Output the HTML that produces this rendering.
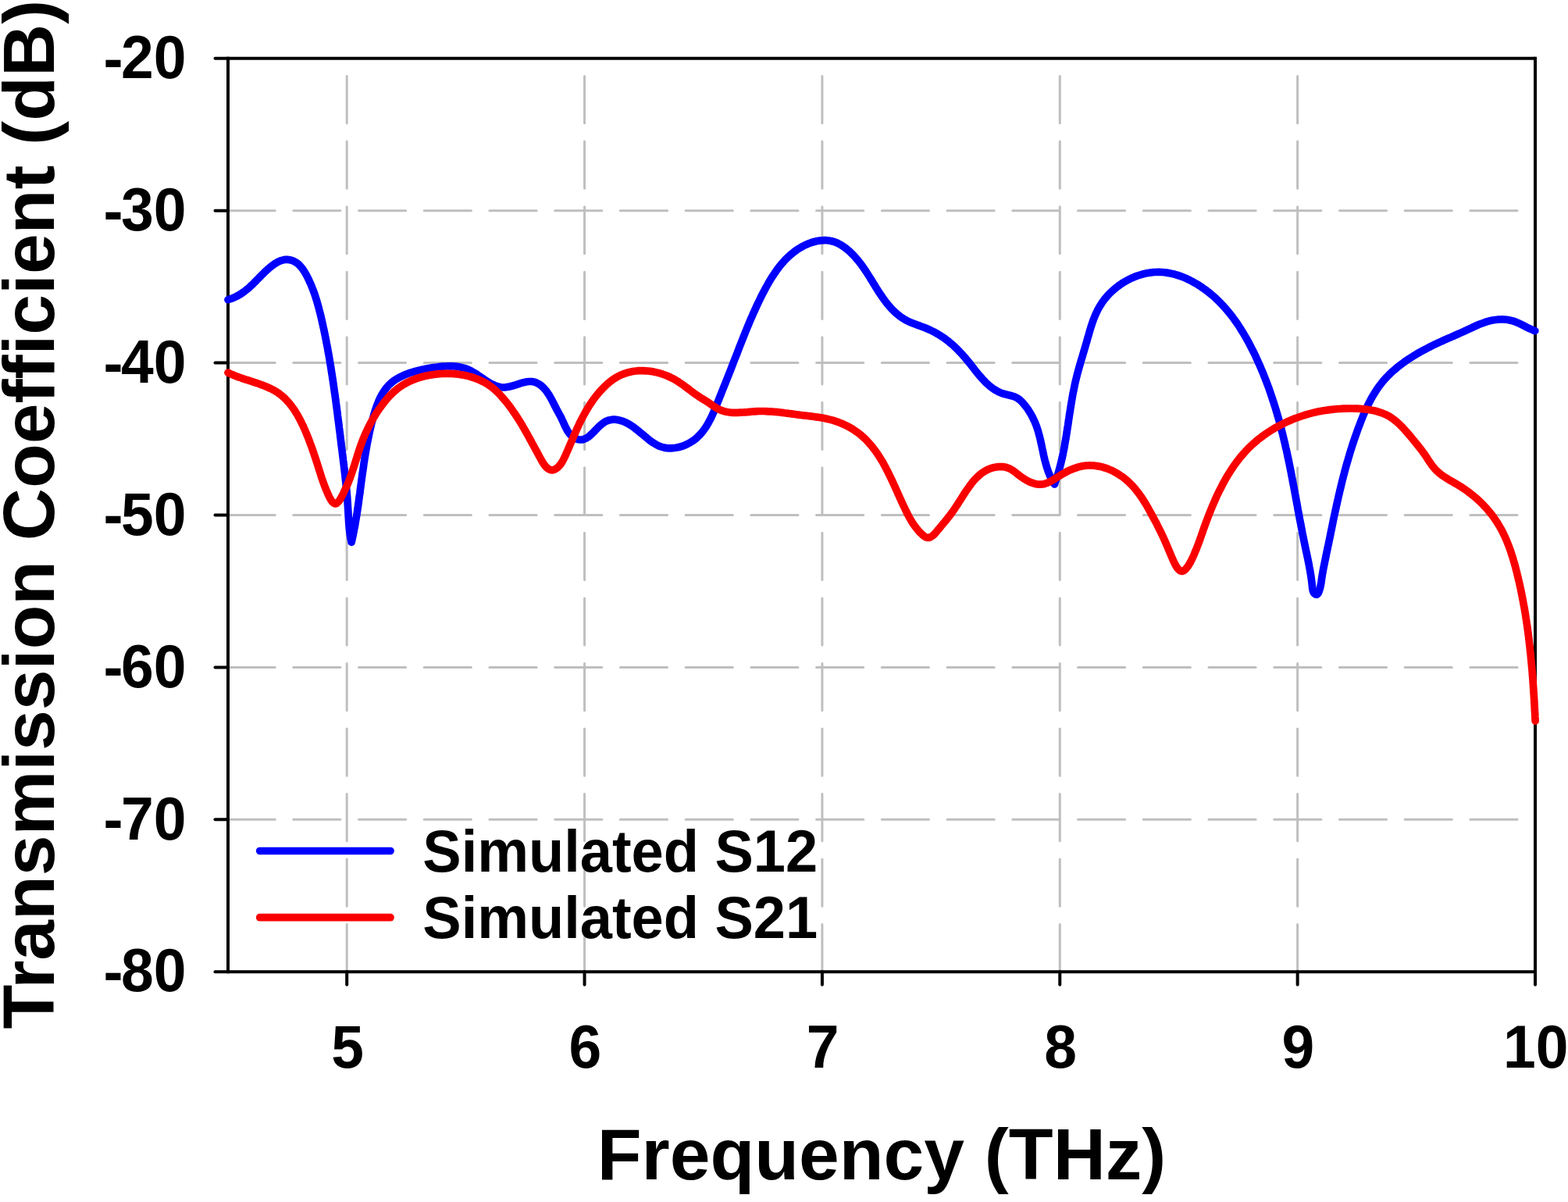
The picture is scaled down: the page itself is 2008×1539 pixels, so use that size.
<!DOCTYPE html>
<html lang="en"><head><meta charset="utf-8"><title>Transmission Coefficient vs Frequency</title>
<style>html,body{margin:0;padding:0;background:#fff}body{width:2008px;height:1539px;overflow:hidden}svg{display:block}text{font-family:"Liberation Sans",Arial,Helvetica,sans-serif;font-weight:bold;fill:#000}</style>
</head><body>
<svg xmlns="http://www.w3.org/2000/svg" width="2008" height="1539" viewBox="0 0 2008 1539">
<rect x="0" y="0" width="2008" height="1539" fill="#fff"/>
<g stroke="#bfbfbf" stroke-width="3" stroke-linecap="round" fill="none">
<line x1="292.00" y1="269.63" x2="1966.00" y2="269.63" stroke-dasharray="60.20 23.53"/>
<line x1="292.00" y1="464.57" x2="1966.00" y2="464.57" stroke-dasharray="60.20 23.53"/>
<line x1="292.00" y1="659.50" x2="1966.00" y2="659.50" stroke-dasharray="60.20 23.53"/>
<line x1="292.00" y1="854.43" x2="1966.00" y2="854.43" stroke-dasharray="60.20 23.53"/>
<line x1="292.00" y1="1049.37" x2="1966.00" y2="1049.37" stroke-dasharray="60.20 23.53"/>
<line x1="444.18" y1="1243.80" x2="444.18" y2="74.70" stroke-dasharray="60.20 23.34"/>
<line x1="748.55" y1="1243.80" x2="748.55" y2="74.70" stroke-dasharray="60.20 23.34"/>
<line x1="1052.91" y1="1243.80" x2="1052.91" y2="74.70" stroke-dasharray="60.20 23.34"/>
<line x1="1357.27" y1="1243.80" x2="1357.27" y2="74.70" stroke-dasharray="60.20 23.34"/>
<line x1="1661.64" y1="1243.80" x2="1661.64" y2="74.70" stroke-dasharray="60.20 23.34"/>
</g>
<g stroke="#000" stroke-width="4" stroke-linecap="butt" fill="none">
<line x1="292.00" y1="72.70" x2="292.00" y2="1246.30"/>
<line x1="1966.00" y1="72.70" x2="1966.00" y2="1246.30"/>
<line x1="292.00" y1="74.70" x2="1966.00" y2="74.70"/>
<line x1="292.00" y1="1244.30" x2="1966.00" y2="1244.30"/>
<line x1="275.50" y1="74.70" x2="292.00" y2="74.70" stroke-linecap="round"/>
<line x1="275.50" y1="269.63" x2="292.00" y2="269.63" stroke-linecap="round"/>
<line x1="275.50" y1="464.57" x2="292.00" y2="464.57" stroke-linecap="round"/>
<line x1="275.50" y1="659.50" x2="292.00" y2="659.50" stroke-linecap="round"/>
<line x1="275.50" y1="854.43" x2="292.00" y2="854.43" stroke-linecap="round"/>
<line x1="275.50" y1="1049.37" x2="292.00" y2="1049.37" stroke-linecap="round"/>
<line x1="275.50" y1="1244.30" x2="292.00" y2="1244.30" stroke-linecap="round"/>
<line x1="444.18" y1="1244.30" x2="444.18" y2="1260.80" stroke-linecap="round"/>
<line x1="748.55" y1="1244.30" x2="748.55" y2="1260.80" stroke-linecap="round"/>
<line x1="1052.91" y1="1244.30" x2="1052.91" y2="1260.80" stroke-linecap="round"/>
<line x1="1357.27" y1="1244.30" x2="1357.27" y2="1260.80" stroke-linecap="round"/>
<line x1="1661.64" y1="1244.30" x2="1661.64" y2="1260.80" stroke-linecap="round"/>
<line x1="1966.00" y1="1244.30" x2="1966.00" y2="1260.80" stroke-linecap="round"/>
</g>
<g fill="none" stroke-width="9.7" stroke-linecap="round" stroke-linejoin="round">
<path stroke="#0000ff" d="M292.0 383.7L295.2 382.7L298.2 381.6L301.0 380.3L303.8 379.0L306.4 377.5L308.9 376.0L311.3 374.3L313.7 372.6L315.9 370.8L318.2 368.9L320.3 366.9L322.5 364.9L324.6 362.9L326.7 360.8L328.8 358.7L330.9 356.5L333.1 354.3L335.2 352.1L337.5 349.9L339.7 347.7L342.1 345.5L344.5 343.4L347.0 341.3L349.5 339.4L352.1 337.6L354.7 336.0L357.3 334.7L360.0 333.6L362.8 332.8L365.5 332.4L368.3 332.4L371.0 332.7L373.8 333.4L376.4 334.5L379.0 335.9L381.4 337.7L383.6 339.7L385.6 341.9L387.5 344.3L389.3 346.9L390.9 349.6L392.5 352.4L393.9 355.2L395.3 358.0L396.6 360.9L397.9 363.7L399.1 366.6L400.2 369.4L401.3 372.3L402.4 375.2L403.4 378.1L404.3 380.9L405.2 383.8L406.1 386.7L406.9 389.6L407.7 392.5L408.5 395.4L409.2 398.3L410.0 401.2L410.7 404.1L411.4 407.1L412.1 410.0L412.7 412.9L413.4 415.8L414.0 418.8L414.7 421.7L415.3 424.7L415.9 427.6L416.5 430.5L417.1 433.5L417.7 436.5L418.2 439.4L418.8 442.4L419.4 445.3L419.9 448.3L420.4 451.3L421.0 454.2L421.5 457.2L422.0 460.2L422.5 463.2L423.0 466.2L423.5 469.1L424.0 472.1L424.4 475.1L424.9 478.1L425.4 481.1L425.8 484.1L426.3 487.1L426.7 490.1L427.2 493.1L427.6 496.1L428.0 499.1L428.4 502.1L428.9 505.1L429.3 508.1L429.7 511.1L430.1 514.1L430.5 517.1L430.9 520.1L431.3 523.1L431.7 526.1L432.1 529.1L432.4 532.1L432.8 535.1L433.2 538.1L433.6 541.1L434.0 544.1L434.3 547.1L434.7 550.1L435.1 553.1L435.5 556.2L435.8 559.2L436.2 562.2L436.6 565.2L436.9 568.2L437.3 571.2L437.7 574.2L438.1 577.2L438.4 580.1L438.8 583.1L439.2 586.1L439.5 589.1L439.9 592.1L440.3 595.1L440.6 598.1L441.0 601.1L441.3 604.1L441.7 607.1L442.0 610.1L442.3 613.1L442.7 616.1L443.0 619.1L443.3 622.1L443.6 625.1L443.9 628.1L444.1 631.1L444.4 634.1L444.7 637.1L444.9 640.1L445.1 643.1L445.3 646.2L445.5 649.2L445.7 652.2L445.9 655.2L446.0 658.3L446.2 661.3L446.4 664.3L446.6 667.4L446.8 670.4L447.0 673.4L447.3 676.4L447.6 679.4L448.0 682.4L448.4 685.4L448.9 688.4L449.5 691.3L450.1 694.3L450.8 691.3L451.4 688.4L452.1 685.4L452.7 682.4L453.2 679.5L453.8 676.5L454.4 673.6L454.9 670.6L455.4 667.6L455.9 664.7L456.4 661.7L456.9 658.7L457.4 655.7L457.8 652.8L458.3 649.8L458.7 646.8L459.1 643.9L459.5 640.9L459.9 637.9L460.3 634.9L460.8 632.0L461.2 629.0L461.5 626.0L461.9 623.1L462.3 620.1L462.7 617.1L463.1 614.1L463.5 611.2L463.9 608.2L464.3 605.2L464.8 602.3L465.2 599.3L465.6 596.3L466.0 593.3L466.5 590.4L466.9 587.4L467.4 584.4L467.9 581.5L468.4 578.5L468.9 575.5L469.4 572.6L469.9 569.6L470.5 566.6L471.1 563.7L471.7 560.7L472.3 557.7L472.9 554.8L473.5 551.8L474.2 548.9L474.9 545.9L475.6 542.9L476.4 540.0L477.2 537.0L478.0 534.1L478.8 531.1L479.7 528.2L480.6 525.2L481.6 522.3L482.6 519.5L483.7 516.6L484.8 513.8L486.0 511.1L487.3 508.4L488.7 505.8L490.2 503.3L491.8 500.8L493.5 498.4L495.3 496.1L497.2 493.9L499.3 491.8L501.4 489.9L503.8 488.0L506.2 486.3L508.8 484.7L511.5 483.2L514.3 481.8L517.1 480.5L520.0 479.3L522.9 478.2L525.8 477.2L528.8 476.3L531.7 475.5L534.6 474.7L537.5 473.9L540.4 473.3L543.3 472.7L546.2 472.1L549.2 471.6L552.1 471.1L555.1 470.6L558.1 470.2L561.1 469.8L564.1 469.4L567.1 469.2L570.1 469.0L573.1 468.8L576.1 468.8L579.1 468.9L582.1 469.0L585.0 469.3L588.0 469.8L590.9 470.4L593.7 471.1L596.6 472.0L599.4 473.1L602.1 474.4L604.8 475.8L607.5 477.4L610.1 479.0L612.7 480.8L615.3 482.5L617.9 484.3L620.5 486.1L623.1 487.8L625.7 489.4L628.3 490.9L630.9 492.3L633.6 493.5L636.3 494.5L639.0 495.2L641.8 495.7L644.6 496.0L647.5 495.8L650.5 495.4L653.5 494.8L656.5 494.0L659.5 493.1L662.6 492.1L665.6 491.1L668.7 490.2L671.7 489.4L674.7 488.8L677.6 488.5L680.5 488.5L683.3 488.8L686.0 489.6L688.6 490.8L691.2 492.4L693.6 494.2L695.8 496.3L697.9 498.6L699.9 500.9L701.6 503.4L703.3 506.0L704.8 508.6L706.3 511.3L707.7 514.0L709.1 516.7L710.4 519.4L711.8 522.0L713.1 524.6L714.5 527.1L715.9 529.7L717.3 532.3L718.7 534.9L720.0 537.7L721.3 540.5L722.6 543.4L724.0 546.3L725.4 549.1L726.9 551.8L728.6 554.4L730.5 556.7L732.7 558.7L735.1 560.5L737.7 561.8L740.5 562.7L743.4 563.0L746.1 562.8L748.7 562.0L751.2 560.8L753.6 559.2L756.0 557.2L758.3 555.1L760.6 552.8L762.9 550.4L765.2 548.0L767.5 545.7L769.9 543.6L772.3 541.7L774.8 540.0L777.4 538.8L780.0 537.9L782.8 537.4L785.6 537.2L788.4 537.2L791.2 537.6L794.1 538.3L796.9 539.1L799.7 540.2L802.5 541.5L805.2 543.0L807.8 544.6L810.4 546.3L812.9 548.1L815.4 550.1L817.8 552.1L820.3 554.1L822.7 556.1L825.1 558.1L827.5 560.1L829.9 562.1L832.3 564.0L834.8 565.8L837.3 567.4L839.8 568.9L842.4 570.3L845.0 571.5L847.8 572.4L850.5 573.1L853.4 573.6L856.3 573.9L859.3 573.9L862.3 573.7L865.3 573.3L868.3 572.8L871.3 572.0L874.2 571.1L877.1 570.0L879.9 568.7L882.6 567.3L885.3 565.7L887.8 564.1L890.2 562.3L892.5 560.4L894.6 558.3L896.7 556.2L898.6 554.0L900.4 551.7L902.2 549.3L903.9 546.9L905.5 544.3L907.0 541.8L908.4 539.1L909.8 536.4L911.2 533.7L912.5 530.9L913.7 528.1L914.9 525.3L916.1 522.4L917.3 519.6L918.4 516.7L919.6 513.9L920.7 511.0L921.8 508.2L923.0 505.4L924.1 502.6L925.2 499.8L926.3 497.0L927.4 494.2L928.6 491.4L929.7 488.6L930.8 485.8L931.9 483.0L933.0 480.2L934.1 477.5L935.2 474.7L936.3 471.9L937.4 469.1L938.4 466.4L939.5 463.6L940.6 460.8L941.7 458.0L942.8 455.2L943.9 452.4L944.9 449.7L946.0 446.9L947.1 444.1L948.2 441.3L949.3 438.5L950.4 435.7L951.5 432.9L952.6 430.2L953.7 427.4L954.8 424.6L956.0 421.8L957.1 419.0L958.3 416.3L959.4 413.5L960.6 410.7L961.8 407.9L963.0 405.2L964.2 402.4L965.4 399.7L966.7 396.9L967.9 394.2L969.2 391.4L970.5 388.7L971.8 386.0L973.1 383.2L974.4 380.5L975.8 377.8L977.2 375.1L978.6 372.4L980.0 369.7L981.5 367.0L983.0 364.4L984.5 361.7L986.0 359.1L987.6 356.5L989.2 353.9L990.9 351.4L992.6 348.9L994.3 346.4L996.1 344.0L997.9 341.6L999.8 339.2L1001.7 336.9L1003.7 334.7L1005.7 332.5L1007.8 330.4L1010.0 328.3L1012.2 326.3L1014.5 324.4L1016.9 322.5L1019.3 320.8L1021.8 319.1L1024.3 317.4L1027.0 315.9L1029.7 314.5L1032.4 313.2L1035.2 312.0L1038.0 310.9L1040.9 310.0L1043.8 309.2L1046.7 308.5L1049.6 308.1L1052.5 307.8L1055.5 307.6L1058.4 307.7L1061.3 308.0L1064.1 308.5L1067.0 309.2L1069.8 310.1L1072.5 311.3L1075.2 312.7L1077.9 314.2L1080.5 316.0L1083.0 317.8L1085.4 319.8L1087.8 321.8L1090.1 324.0L1092.3 326.2L1094.4 328.4L1096.4 330.7L1098.4 333.0L1100.3 335.3L1102.1 337.7L1103.9 340.1L1105.6 342.5L1107.3 345.0L1109.0 347.5L1110.6 350.0L1112.2 352.5L1113.8 355.0L1115.4 357.6L1116.9 360.1L1118.5 362.7L1120.1 365.2L1121.6 367.7L1123.2 370.3L1124.8 372.8L1126.4 375.3L1128.1 377.8L1129.8 380.3L1131.5 382.7L1133.3 385.1L1135.1 387.5L1137.0 389.9L1139.0 392.2L1141.0 394.4L1143.1 396.7L1145.3 398.8L1147.5 400.8L1149.8 402.8L1152.1 404.7L1154.6 406.4L1157.1 408.1L1159.6 409.6L1162.3 411.0L1165.0 412.3L1167.8 413.4L1170.6 414.5L1173.4 415.6L1176.3 416.6L1179.2 417.7L1182.0 418.7L1184.8 419.8L1187.6 421.0L1190.4 422.2L1193.1 423.5L1195.8 424.8L1198.4 426.2L1201.0 427.7L1203.6 429.3L1206.1 430.9L1208.6 432.6L1211.0 434.3L1213.4 436.1L1215.7 438.0L1218.0 439.9L1220.3 441.9L1222.5 443.9L1224.7 446.0L1226.8 448.1L1228.9 450.3L1231.0 452.5L1233.0 454.7L1235.0 457.0L1237.0 459.3L1238.9 461.6L1240.8 463.9L1242.7 466.3L1244.6 468.7L1246.5 471.1L1248.3 473.5L1250.2 475.8L1252.1 478.2L1254.0 480.5L1256.0 482.8L1258.0 485.0L1260.0 487.2L1262.1 489.4L1264.2 491.4L1266.5 493.4L1268.8 495.3L1271.2 497.1L1273.6 498.8L1276.2 500.3L1278.8 501.7L1281.6 502.9L1284.4 504.0L1287.3 504.8L1290.3 505.5L1293.3 506.2L1296.2 507.0L1299.0 507.9L1301.7 509.1L1304.2 510.6L1306.6 512.5L1308.7 514.7L1310.8 516.9L1312.7 519.3L1314.6 521.7L1316.4 524.1L1318.0 526.7L1319.6 529.3L1321.1 531.9L1322.5 534.6L1323.8 537.3L1325.1 540.0L1326.2 542.8L1327.3 545.6L1328.3 548.5L1329.2 551.3L1330.0 554.2L1330.8 557.1L1331.6 560.0L1332.3 563.0L1332.9 565.9L1333.6 568.9L1334.2 571.8L1334.8 574.8L1335.5 577.7L1336.1 580.7L1336.7 583.6L1337.4 586.6L1338.1 589.5L1338.9 592.4L1339.7 595.3L1340.5 598.1L1341.5 601.0L1342.4 603.8L1343.5 606.6L1344.7 609.4L1346.0 612.1L1347.3 614.8L1348.8 617.4L1350.4 620.0L1351.4 617.2L1352.4 614.3L1353.4 611.5L1354.3 608.6L1355.2 605.8L1356.0 602.9L1356.8 600.0L1357.6 597.1L1358.3 594.2L1359.0 591.3L1359.7 588.4L1360.4 585.4L1361.0 582.5L1361.6 579.6L1362.2 576.6L1362.8 573.7L1363.3 570.7L1363.8 567.8L1364.3 564.8L1364.9 561.8L1365.3 558.9L1365.8 555.9L1366.3 552.9L1366.7 549.9L1367.2 546.9L1367.7 544.0L1368.1 541.0L1368.5 538.0L1369.0 535.0L1369.4 532.0L1369.9 529.0L1370.4 526.1L1370.8 523.1L1371.3 520.1L1371.8 517.1L1372.3 514.2L1372.8 511.2L1373.3 508.2L1373.8 505.3L1374.4 502.3L1375.0 499.4L1375.6 496.4L1376.2 493.5L1376.8 490.5L1377.5 487.6L1378.2 484.7L1378.9 481.8L1379.6 478.9L1380.4 476.0L1381.2 473.1L1382.0 470.2L1382.9 467.3L1383.7 464.4L1384.5 461.5L1385.4 458.6L1386.3 455.8L1387.1 452.9L1388.0 450.0L1388.8 447.1L1389.7 444.2L1390.5 441.3L1391.4 438.4L1392.2 435.5L1393.0 432.5L1393.9 429.6L1394.7 426.7L1395.5 423.8L1396.4 420.9L1397.3 418.0L1398.2 415.2L1399.2 412.3L1400.2 409.5L1401.3 406.7L1402.4 404.0L1403.6 401.3L1404.9 398.6L1406.2 395.9L1407.7 393.3L1409.2 390.8L1410.8 388.3L1412.5 385.8L1414.3 383.4L1416.2 381.1L1418.2 378.8L1420.2 376.6L1422.4 374.4L1424.6 372.3L1426.9 370.3L1429.2 368.4L1431.6 366.5L1434.1 364.7L1436.6 363.0L1439.2 361.4L1441.9 359.8L1444.5 358.4L1447.3 357.0L1450.0 355.7L1452.8 354.5L1455.7 353.4L1458.5 352.5L1461.4 351.6L1464.3 350.8L1467.2 350.1L1470.2 349.5L1473.1 349.1L1476.1 348.7L1479.1 348.5L1482.0 348.4L1485.0 348.4L1488.0 348.5L1490.9 348.8L1493.9 349.1L1496.8 349.6L1499.7 350.2L1502.6 350.8L1505.5 351.6L1508.4 352.5L1511.2 353.4L1514.1 354.5L1516.9 355.6L1519.7 356.8L1522.4 358.1L1525.1 359.5L1527.8 360.9L1530.5 362.4L1533.1 363.9L1535.7 365.6L1538.2 367.2L1540.7 369.0L1543.2 370.7L1545.6 372.5L1548.0 374.4L1550.3 376.3L1552.6 378.2L1554.9 380.2L1557.1 382.2L1559.3 384.3L1561.4 386.4L1563.5 388.5L1565.5 390.7L1567.6 392.9L1569.6 395.1L1571.5 397.4L1573.4 399.7L1575.3 402.0L1577.1 404.3L1578.9 406.7L1580.7 409.1L1582.5 411.6L1584.2 414.0L1585.9 416.5L1587.5 419.0L1589.1 421.6L1590.7 424.1L1592.3 426.7L1593.8 429.3L1595.3 431.9L1596.8 434.5L1598.3 437.2L1599.7 439.8L1601.1 442.5L1602.5 445.2L1603.9 447.9L1605.2 450.6L1606.6 453.3L1607.9 456.0L1609.1 458.8L1610.4 461.5L1611.6 464.3L1612.9 467.0L1614.1 469.8L1615.2 472.6L1616.4 475.3L1617.6 478.1L1618.7 480.9L1619.8 483.7L1620.9 486.5L1622.0 489.3L1623.0 492.1L1624.1 494.9L1625.1 497.7L1626.1 500.6L1627.1 503.4L1628.0 506.2L1629.0 509.1L1629.9 511.9L1630.9 514.8L1631.8 517.7L1632.7 520.5L1633.6 523.4L1634.4 526.3L1635.3 529.1L1636.1 532.0L1637.0 534.9L1637.8 537.8L1638.6 540.7L1639.4 543.6L1640.1 546.5L1640.9 549.4L1641.6 552.3L1642.4 555.2L1643.1 558.1L1643.8 561.1L1644.5 564.0L1645.2 566.9L1645.9 569.9L1646.5 572.8L1647.2 575.7L1647.9 578.7L1648.5 581.6L1649.1 584.6L1649.8 587.5L1650.4 590.4L1651.0 593.4L1651.6 596.3L1652.2 599.3L1652.8 602.3L1653.4 605.2L1653.9 608.2L1654.5 611.1L1655.1 614.1L1655.6 617.1L1656.2 620.0L1656.8 623.0L1657.3 625.9L1657.9 628.9L1658.4 631.9L1659.0 634.8L1659.5 637.8L1660.1 640.8L1660.6 643.7L1661.2 646.7L1661.7 649.6L1662.2 652.6L1662.8 655.6L1663.3 658.5L1663.9 661.5L1664.4 664.4L1665.0 667.4L1665.6 670.3L1666.1 673.3L1666.7 676.2L1667.3 679.2L1667.8 682.1L1668.4 685.1L1669.0 688.0L1669.6 690.9L1670.2 693.9L1670.8 696.8L1671.4 699.7L1672.0 702.6L1672.6 705.6L1673.3 708.5L1673.9 711.4L1674.5 714.3L1675.1 717.3L1675.7 720.2L1676.3 723.2L1676.8 726.1L1677.4 729.1L1677.9 732.1L1678.4 735.1L1678.9 738.1L1679.3 741.1L1679.7 744.2L1680.1 747.3L1680.4 750.4L1680.7 753.4L1681.3 756.4L1682.4 759.0L1684.3 760.9L1686.4 761.3L1688.1 759.6L1689.3 756.8L1690.3 753.7L1691.0 750.7L1691.6 747.7L1692.1 744.7L1692.5 741.7L1692.9 738.8L1693.4 735.8L1693.9 732.9L1694.4 729.9L1695.0 727.0L1695.6 724.0L1696.2 721.1L1696.8 718.1L1697.4 715.2L1698.0 712.2L1698.6 709.3L1699.2 706.3L1699.8 703.4L1700.4 700.5L1701.1 697.5L1701.7 694.6L1702.3 691.6L1702.9 688.7L1703.5 685.7L1704.1 682.8L1704.7 679.8L1705.3 676.9L1705.9 673.9L1706.5 671.0L1707.1 668.0L1707.7 665.1L1708.3 662.1L1709.0 659.2L1709.6 656.3L1710.2 653.3L1710.9 650.4L1711.5 647.4L1712.2 644.5L1712.8 641.6L1713.5 638.6L1714.1 635.7L1714.8 632.8L1715.5 629.9L1716.2 626.9L1716.9 624.0L1717.6 621.1L1718.3 618.2L1719.0 615.3L1719.8 612.3L1720.5 609.4L1721.3 606.5L1722.0 603.6L1722.8 600.7L1723.6 597.8L1724.4 594.9L1725.2 592.0L1726.1 589.2L1726.9 586.3L1727.8 583.4L1728.6 580.5L1729.5 577.6L1730.4 574.8L1731.3 571.9L1732.2 569.0L1733.2 566.2L1734.1 563.3L1735.1 560.5L1736.1 557.6L1737.1 554.8L1738.1 551.9L1739.1 549.1L1740.2 546.2L1741.3 543.4L1742.3 540.6L1743.5 537.7L1744.6 534.9L1745.7 532.1L1746.9 529.3L1748.1 526.6L1749.4 523.8L1750.7 521.1L1752.0 518.4L1753.3 515.7L1754.7 513.0L1756.1 510.4L1757.6 507.7L1759.1 505.2L1760.7 502.6L1762.3 500.1L1763.9 497.6L1765.6 495.2L1767.4 492.8L1769.2 490.5L1771.1 488.2L1773.0 485.9L1775.0 483.7L1777.1 481.6L1779.2 479.5L1781.3 477.4L1783.5 475.4L1785.8 473.4L1788.1 471.5L1790.4 469.6L1792.7 467.7L1795.2 465.9L1797.6 464.1L1800.1 462.3L1802.6 460.6L1805.1 458.9L1807.7 457.3L1810.3 455.7L1812.9 454.1L1815.5 452.5L1818.1 451.0L1820.8 449.5L1823.5 448.1L1826.2 446.7L1828.9 445.3L1831.6 443.9L1834.3 442.5L1837.0 441.2L1839.8 439.9L1842.5 438.6L1845.2 437.4L1847.9 436.2L1850.6 434.9L1853.3 433.7L1856.1 432.6L1858.8 431.4L1861.5 430.2L1864.2 429.0L1866.9 427.8L1869.6 426.6L1872.3 425.4L1875.1 424.2L1877.8 422.9L1880.5 421.6L1883.3 420.3L1886.1 419.0L1888.8 417.8L1891.6 416.5L1894.4 415.3L1897.3 414.2L1900.1 413.2L1903.0 412.2L1905.9 411.3L1908.8 410.6L1911.7 410.0L1914.7 409.5L1917.6 409.2L1920.6 409.0L1923.6 408.9L1926.5 409.0L1929.4 409.3L1932.4 409.8L1935.3 410.4L1938.1 411.2L1941.0 412.2L1943.8 413.4L1946.6 414.7L1949.4 416.0L1952.1 417.4L1954.9 418.8L1957.6 420.2L1960.3 421.4L1963.1 422.6L1965.8 423.6"/>
<path stroke="#fa0000" d="M292.0 477.1L294.6 478.4L297.3 479.6L300.0 480.7L302.7 481.8L305.6 482.8L308.4 483.8L311.3 484.8L314.2 485.8L317.1 486.7L320.0 487.7L323.0 488.6L325.9 489.6L328.8 490.5L331.7 491.5L334.6 492.6L337.5 493.6L340.3 494.8L343.1 496.0L345.8 497.2L348.5 498.5L351.1 499.9L353.6 501.4L356.1 503.0L358.4 504.7L360.7 506.5L362.9 508.4L365.1 510.4L367.1 512.5L369.1 514.7L371.0 516.9L372.9 519.3L374.6 521.7L376.4 524.1L378.0 526.6L379.6 529.2L381.2 531.8L382.6 534.5L384.1 537.2L385.5 539.9L386.8 542.7L388.2 545.4L389.4 548.2L390.7 551.0L391.9 553.9L393.0 556.7L394.2 559.5L395.3 562.3L396.4 565.2L397.4 568.0L398.5 570.8L399.5 573.7L400.5 576.5L401.5 579.3L402.4 582.1L403.4 584.9L404.3 587.7L405.2 590.5L406.1 593.3L407.0 596.1L407.9 598.9L408.7 601.6L409.6 604.3L410.5 607.1L411.3 609.8L412.2 612.5L413.2 615.3L414.2 618.1L415.2 621.0L416.4 624.0L417.6 627.1L419.0 630.3L420.4 633.6L422.0 636.9L423.7 639.9L425.5 642.5L427.4 644.2L429.2 644.9L431.1 644.5L433.0 642.9L434.9 640.5L436.7 637.5L438.4 634.3L440.0 631.1L441.4 628.0L442.8 625.0L444.1 622.2L445.3 619.5L446.4 616.8L447.4 614.1L448.5 611.5L449.4 608.8L450.4 606.0L451.3 603.2L452.3 600.4L453.2 597.6L454.1 594.8L455.0 591.9L455.9 589.0L456.8 586.2L457.7 583.3L458.6 580.4L459.5 577.5L460.5 574.6L461.5 571.7L462.5 568.9L463.6 566.0L464.6 563.2L465.8 560.4L466.9 557.6L468.1 554.9L469.4 552.1L470.7 549.4L472.0 546.7L473.4 544.0L474.8 541.4L476.2 538.8L477.7 536.2L479.2 533.6L480.8 531.0L482.4 528.5L484.0 526.0L485.7 523.5L487.5 521.1L489.2 518.7L491.1 516.3L492.9 513.9L494.8 511.6L496.8 509.3L498.8 507.1L500.9 505.0L503.0 502.9L505.2 500.9L507.5 499.0L509.8 497.1L512.2 495.4L514.7 493.7L517.2 492.2L519.8 490.7L522.4 489.3L525.1 488.0L527.9 486.8L530.7 485.7L533.5 484.6L536.4 483.7L539.3 482.8L542.2 482.0L545.2 481.3L548.2 480.7L551.2 480.1L554.2 479.7L557.2 479.3L560.2 478.9L563.3 478.7L566.3 478.5L569.3 478.4L572.3 478.4L575.3 478.4L578.3 478.5L581.3 478.7L584.3 478.9L587.2 479.2L590.2 479.7L593.1 480.1L596.0 480.7L598.9 481.4L601.7 482.1L604.6 483.0L607.4 483.9L610.2 485.0L613.0 486.1L615.7 487.3L618.4 488.6L621.1 490.1L623.8 491.6L626.3 493.3L628.8 495.0L631.2 496.9L633.5 498.8L635.8 500.9L638.0 503.0L640.1 505.2L642.1 507.4L644.1 509.7L646.1 512.0L648.0 514.3L649.8 516.6L651.7 519.0L653.5 521.4L655.2 523.8L656.9 526.2L658.6 528.7L660.3 531.1L661.9 533.6L663.5 536.1L665.1 538.6L666.6 541.2L668.2 543.7L669.7 546.3L671.2 548.9L672.7 551.5L674.2 554.1L675.6 556.7L677.1 559.3L678.5 562.0L680.0 564.6L681.4 567.3L682.9 569.9L684.3 572.6L685.8 575.3L687.2 577.9L688.7 580.6L690.1 583.3L691.6 586.0L693.1 588.7L694.6 591.4L696.3 594.0L698.0 596.4L700.1 598.6L702.4 600.4L704.9 601.6L707.6 601.9L710.2 601.2L712.7 599.7L715.0 597.8L717.0 595.6L718.8 593.1L720.4 590.5L721.9 587.7L723.3 584.9L724.6 582.0L725.9 579.1L727.1 576.3L728.3 573.5L729.5 570.7L730.7 567.9L731.9 565.1L733.1 562.4L734.2 559.7L735.4 556.9L736.6 554.2L737.8 551.5L739.0 548.8L740.3 546.1L741.5 543.4L742.8 540.7L744.1 538.1L745.5 535.4L746.9 532.8L748.3 530.2L749.7 527.6L751.2 525.0L752.8 522.4L754.3 519.9L755.9 517.4L757.6 514.9L759.3 512.5L761.1 510.0L762.9 507.6L764.8 505.3L766.8 502.9L768.8 500.6L770.9 498.4L773.0 496.2L775.2 494.0L777.5 491.9L779.8 489.9L782.2 488.0L784.6 486.2L787.1 484.5L789.7 482.9L792.3 481.5L795.0 480.2L797.7 479.1L800.5 478.1L803.3 477.2L806.2 476.4L809.1 475.8L812.0 475.3L814.9 475.0L817.9 474.7L820.9 474.6L823.8 474.6L826.8 474.8L829.8 475.0L832.8 475.3L835.8 475.8L838.8 476.4L841.7 477.1L844.6 477.8L847.6 478.7L850.4 479.7L853.3 480.8L856.1 482.0L858.8 483.2L861.5 484.6L864.2 486.1L866.8 487.6L869.3 489.2L871.8 490.9L874.3 492.6L876.7 494.4L879.2 496.2L881.6 498.0L883.9 499.8L886.3 501.6L888.7 503.3L891.1 505.1L893.6 506.8L896.0 508.4L898.5 510.0L901.0 511.5L903.6 513.1L906.1 514.7L908.7 516.4L911.2 518.2L913.8 520.0L916.4 521.7L919.0 523.3L921.7 524.6L924.5 525.7L927.3 526.6L930.1 527.3L933.0 527.8L935.9 528.1L938.9 528.3L941.8 528.4L944.8 528.4L947.8 528.2L950.9 528.0L953.9 527.8L957.0 527.6L960.0 527.3L963.1 527.0L966.1 526.8L969.2 526.6L972.2 526.5L975.2 526.5L978.2 526.5L981.2 526.6L984.2 526.8L987.2 526.9L990.2 527.2L993.1 527.4L996.1 527.7L999.1 528.0L1002.0 528.4L1005.0 528.8L1007.9 529.1L1010.9 529.5L1013.9 529.9L1016.8 530.3L1019.8 530.7L1022.8 531.1L1025.8 531.5L1028.8 531.8L1031.8 532.2L1034.8 532.5L1037.8 532.9L1040.8 533.3L1043.7 533.7L1046.7 534.1L1049.7 534.5L1052.7 535.0L1055.7 535.6L1058.6 536.2L1061.5 536.9L1064.5 537.6L1067.4 538.4L1070.2 539.3L1073.1 540.3L1075.9 541.4L1078.7 542.5L1081.5 543.8L1084.2 545.1L1086.9 546.5L1089.5 548.0L1092.1 549.5L1094.6 551.2L1097.1 552.9L1099.5 554.7L1101.8 556.5L1104.0 558.4L1106.2 560.4L1108.4 562.4L1110.4 564.5L1112.4 566.7L1114.4 568.9L1116.3 571.1L1118.1 573.4L1119.9 575.8L1121.7 578.2L1123.4 580.6L1125.0 583.1L1126.6 585.6L1128.2 588.2L1129.8 590.7L1131.3 593.4L1132.7 596.0L1134.2 598.7L1135.6 601.4L1137.0 604.1L1138.3 606.8L1139.7 609.6L1141.0 612.3L1142.3 615.1L1143.6 617.9L1144.9 620.7L1146.2 623.5L1147.4 626.3L1148.7 629.1L1149.9 631.9L1151.2 634.7L1152.4 637.5L1153.7 640.2L1154.9 643.0L1156.2 645.8L1157.5 648.5L1158.8 651.2L1160.1 653.9L1161.4 656.6L1162.8 659.2L1164.1 661.8L1165.6 664.4L1167.1 666.9L1168.6 669.4L1170.3 671.9L1172.0 674.3L1173.8 676.6L1175.7 678.9L1177.7 681.2L1179.9 683.3L1182.1 685.4L1184.5 687.3L1187.0 688.4L1189.6 688.4L1192.2 687.4L1194.7 685.6L1197.1 683.4L1199.2 680.9L1201.3 678.4L1203.4 675.9L1205.3 673.5L1207.3 671.1L1209.2 668.9L1211.1 666.6L1212.9 664.4L1214.7 662.1L1216.5 659.8L1218.2 657.5L1219.9 655.2L1221.6 652.8L1223.2 650.3L1224.8 647.9L1226.5 645.4L1228.1 642.8L1229.7 640.3L1231.3 637.8L1233.0 635.2L1234.6 632.6L1236.3 630.1L1238.0 627.5L1239.8 625.0L1241.6 622.4L1243.4 620.0L1245.3 617.6L1247.2 615.2L1249.3 613.0L1251.4 610.8L1253.6 608.8L1255.9 606.8L1258.3 605.1L1260.8 603.4L1263.4 602.0L1266.2 600.7L1269.0 599.6L1271.9 598.8L1274.9 598.1L1277.9 597.7L1280.9 597.5L1283.9 597.6L1286.8 598.0L1289.6 598.7L1292.2 599.7L1294.8 601.0L1297.3 602.6L1299.7 604.3L1302.1 606.2L1304.5 608.1L1307.0 610.0L1309.7 611.9L1312.4 613.6L1315.2 615.2L1318.0 616.7L1320.9 617.9L1323.8 618.9L1326.7 619.7L1329.6 620.1L1332.4 620.2L1335.2 620.0L1337.9 619.4L1340.6 618.5L1343.2 617.4L1345.8 616.1L1348.4 614.6L1351.0 613.0L1353.6 611.3L1356.2 609.7L1358.8 608.0L1361.5 606.4L1364.2 604.9L1367.0 603.4L1369.7 602.1L1372.6 600.9L1375.4 599.8L1378.3 598.8L1381.1 597.9L1384.1 597.2L1387.0 596.6L1389.9 596.2L1392.9 596.0L1395.8 595.9L1398.8 596.0L1401.7 596.2L1404.6 596.6L1407.6 597.1L1410.5 597.7L1413.3 598.5L1416.2 599.4L1419.0 600.4L1421.8 601.6L1424.6 602.8L1427.3 604.2L1429.9 605.7L1432.5 607.2L1435.0 608.9L1437.5 610.6L1439.9 612.4L1442.2 614.3L1444.5 616.3L1446.6 618.4L1448.8 620.5L1450.8 622.6L1452.8 624.9L1454.7 627.2L1456.5 629.5L1458.4 631.9L1460.1 634.3L1461.8 636.8L1463.5 639.3L1465.1 641.9L1466.7 644.4L1468.3 647.0L1469.8 649.7L1471.3 652.3L1472.8 655.0L1474.2 657.6L1475.7 660.3L1477.1 663.0L1478.5 665.7L1480.0 668.3L1481.4 671.0L1482.7 673.7L1484.1 676.4L1485.4 679.0L1486.7 681.6L1488.0 684.3L1489.2 686.9L1490.4 689.5L1491.5 692.0L1492.7 694.6L1493.8 697.3L1495.0 700.0L1496.2 702.8L1497.4 705.7L1498.7 708.8L1500.1 712.1L1501.5 715.4L1503.0 718.8L1504.6 722.0L1506.2 725.0L1507.9 727.5L1509.7 729.5L1511.5 730.9L1513.3 731.4L1515.2 731.0L1517.1 729.9L1519.0 728.0L1520.9 725.6L1522.7 722.8L1524.5 719.7L1526.2 716.4L1527.8 713.0L1529.3 709.6L1530.6 706.4L1531.9 703.3L1533.1 700.3L1534.2 697.4L1535.3 694.6L1536.3 691.8L1537.2 689.1L1538.2 686.4L1539.1 683.7L1540.1 681.0L1541.0 678.3L1542.0 675.5L1543.0 672.8L1544.0 670.0L1545.0 667.3L1546.1 664.5L1547.1 661.7L1548.2 658.9L1549.3 656.2L1550.4 653.4L1551.6 650.6L1552.7 647.8L1553.9 645.1L1555.1 642.3L1556.3 639.5L1557.5 636.8L1558.8 634.0L1560.1 631.3L1561.4 628.6L1562.8 625.9L1564.2 623.2L1565.6 620.5L1567.0 617.8L1568.5 615.2L1569.9 612.5L1571.5 609.9L1573.0 607.3L1574.6 604.8L1576.2 602.2L1577.9 599.7L1579.6 597.2L1581.3 594.8L1583.1 592.3L1584.9 590.0L1586.7 587.6L1588.6 585.2L1590.5 583.0L1592.5 580.7L1594.5 578.5L1596.5 576.3L1598.6 574.1L1600.8 572.0L1602.9 570.0L1605.1 567.9L1607.4 566.0L1609.7 564.0L1612.0 562.1L1614.4 560.3L1616.8 558.5L1619.2 556.7L1621.7 555.0L1624.2 553.3L1626.8 551.7L1629.3 550.1L1631.9 548.5L1634.5 547.0L1637.2 545.6L1639.9 544.2L1642.6 542.8L1645.3 541.5L1648.0 540.2L1650.8 538.9L1653.5 537.8L1656.3 536.6L1659.1 535.5L1662.0 534.5L1664.8 533.5L1667.7 532.5L1670.5 531.6L1673.4 530.7L1676.3 529.9L1679.2 529.1L1682.0 528.4L1684.9 527.7L1687.9 527.1L1690.8 526.5L1693.7 526.0L1696.6 525.5L1699.6 525.1L1702.5 524.6L1705.5 524.3L1708.5 524.0L1711.4 523.7L1714.4 523.5L1717.4 523.3L1720.4 523.2L1723.4 523.1L1726.5 523.0L1729.5 523.0L1732.5 523.0L1735.6 523.1L1738.6 523.2L1741.6 523.4L1744.7 523.6L1747.7 523.9L1750.7 524.3L1753.7 524.7L1756.7 525.2L1759.7 525.8L1762.6 526.5L1765.4 527.3L1768.3 528.3L1771.0 529.3L1773.8 530.4L1776.4 531.7L1779.0 533.1L1781.5 534.7L1783.9 536.4L1786.3 538.2L1788.6 540.1L1790.9 542.1L1793.1 544.2L1795.3 546.4L1797.4 548.6L1799.4 550.9L1801.5 553.2L1803.4 555.5L1805.4 557.8L1807.4 560.2L1809.3 562.5L1811.2 564.8L1813.1 567.1L1814.9 569.4L1816.8 571.7L1818.6 574.0L1820.4 576.3L1822.1 578.7L1823.9 581.1L1825.6 583.6L1827.3 586.2L1829.0 588.8L1830.7 591.3L1832.5 593.9L1834.3 596.4L1836.2 598.8L1838.2 601.1L1840.3 603.2L1842.5 605.2L1844.8 607.1L1847.2 608.9L1849.7 610.5L1852.2 612.1L1854.7 613.7L1857.3 615.2L1860.0 616.7L1862.6 618.2L1865.2 619.7L1867.8 621.3L1870.3 622.9L1872.9 624.5L1875.4 626.2L1877.8 627.9L1880.3 629.7L1882.7 631.5L1885.0 633.4L1887.4 635.3L1889.7 637.2L1891.9 639.2L1894.1 641.2L1896.3 643.3L1898.4 645.4L1900.5 647.6L1902.6 649.8L1904.6 652.0L1906.5 654.3L1908.4 656.6L1910.3 658.9L1912.1 661.3L1913.8 663.7L1915.5 666.2L1917.1 668.6L1918.7 671.2L1920.2 673.7L1921.7 676.3L1923.1 678.9L1924.5 681.6L1925.8 684.3L1927.1 687.0L1928.3 689.7L1929.5 692.4L1930.6 695.2L1931.7 698.0L1932.8 700.8L1933.8 703.7L1934.8 706.5L1935.7 709.4L1936.7 712.3L1937.6 715.2L1938.4 718.1L1939.3 721.0L1940.1 723.9L1940.9 726.8L1941.6 729.8L1942.4 732.7L1943.1 735.6L1943.8 738.6L1944.5 741.5L1945.2 744.5L1945.9 747.4L1946.5 750.4L1947.2 753.3L1947.8 756.3L1948.4 759.2L1949.0 762.2L1949.6 765.1L1950.1 768.1L1950.7 771.0L1951.2 774.0L1951.8 776.9L1952.3 779.9L1952.8 782.9L1953.3 785.8L1953.8 788.8L1954.2 791.7L1954.7 794.7L1955.1 797.7L1955.6 800.6L1956.0 803.6L1956.4 806.6L1956.8 809.5L1957.2 812.5L1957.6 815.5L1957.9 818.4L1958.3 821.4L1958.6 824.4L1959.0 827.4L1959.3 830.3L1959.6 833.3L1959.9 836.3L1960.3 839.3L1960.5 842.2L1960.8 845.2L1961.1 848.2L1961.4 851.2L1961.6 854.2L1961.9 857.2L1962.2 860.1L1962.4 863.1L1962.6 866.1L1962.9 869.1L1963.1 872.1L1963.3 875.1L1963.5 878.1L1963.7 881.1L1963.9 884.1L1964.1 887.1L1964.3 890.1L1964.5 893.1L1964.7 896.1L1964.8 899.1L1965.0 902.1L1965.2 905.1L1965.3 908.1L1965.5 911.1L1965.7 914.2L1965.8 917.2L1966.0 920.2L1966.1 923.2"/>
<line x1="332.7" y1="1089.5" x2="500" y2="1089.5" stroke="#0000ff"/>
<line x1="332.7" y1="1174.7" x2="500" y2="1174.7" stroke="#fa0000"/>
</g>
<text transform="translate(541.3 1115.8) scale(1 1.03)" font-size="74">Simulated S12</text>
<text transform="translate(541.3 1200.9) scale(1 1.03)" font-size="74">Simulated S21</text>
<text transform="translate(0 99.85) scale(1 1.04)" font-size="75"><tspan x="132.40" y="1.73">-</tspan><tspan x="155.08" y="0">20</tspan></text>
<text transform="translate(0 294.78) scale(1 1.04)" font-size="75"><tspan x="132.40" y="1.73">-</tspan><tspan x="155.08" y="0">30</tspan></text>
<text transform="translate(0 489.72) scale(1 1.04)" font-size="75"><tspan x="132.40" y="1.73">-</tspan><tspan x="155.08" y="0">40</tspan></text>
<text transform="translate(0 684.65) scale(1 1.04)" font-size="75"><tspan x="132.40" y="1.73">-</tspan><tspan x="155.08" y="0">50</tspan></text>
<text transform="translate(0 879.58) scale(1 1.04)" font-size="75"><tspan x="132.40" y="1.73">-</tspan><tspan x="155.08" y="0">60</tspan></text>
<text transform="translate(0 1074.52) scale(1 1.04)" font-size="75"><tspan x="132.40" y="1.73">-</tspan><tspan x="155.08" y="0">70</tspan></text>
<text transform="translate(0 1269.45) scale(1 1.04)" font-size="75"><tspan x="132.40" y="1.73">-</tspan><tspan x="155.08" y="0">80</tspan></text>
<text transform="translate(444.98 1367.2) scale(1 1.04)" font-size="75" text-anchor="middle">5</text>
<text transform="translate(749.35 1367.2) scale(1 1.04)" font-size="75" text-anchor="middle">6</text>
<text transform="translate(1053.71 1367.2) scale(1 1.04)" font-size="75" text-anchor="middle">7</text>
<text transform="translate(1358.07 1367.2) scale(1 1.04)" font-size="75" text-anchor="middle">8</text>
<text transform="translate(1662.44 1367.2) scale(1 1.04)" font-size="75" text-anchor="middle">9</text>
<text transform="translate(1966.80 1367.2) scale(1 1.04)" font-size="75" text-anchor="middle">10</text>
<text x="1129" y="1510.4" font-size="93" text-anchor="middle">Frequency (THz)</text>
<text transform="translate(69 658.7) rotate(-90)" font-size="93" text-anchor="middle">Transmission Coefficient (dB)</text>
</svg>
</body></html>
